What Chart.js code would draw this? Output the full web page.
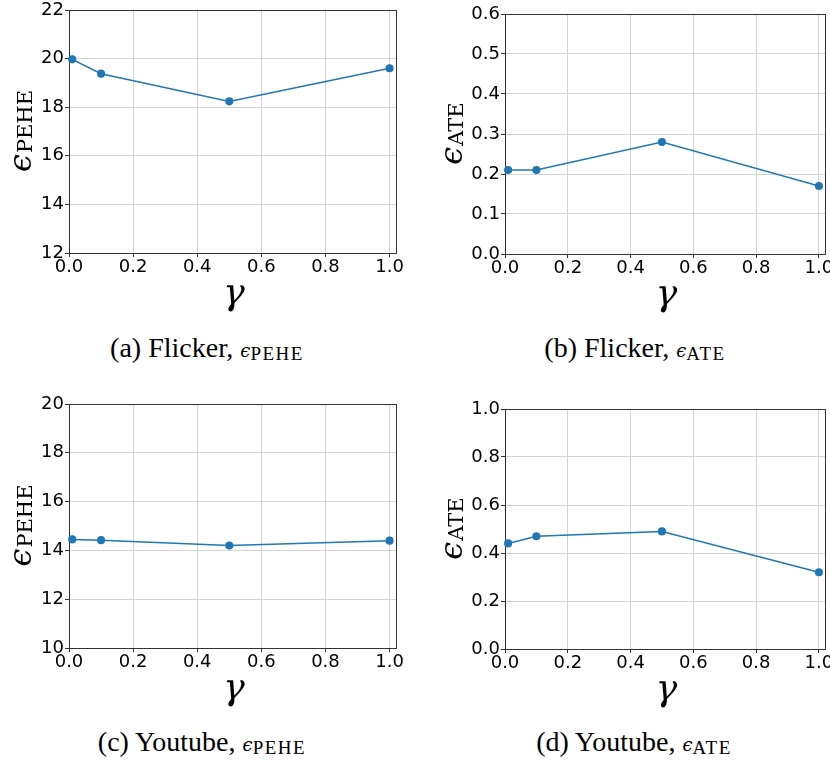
<!DOCTYPE html>
<html>
<head>
<meta charset="utf-8">
<script src="https://cdn.jsdelivr.net/npm/chart.js@4.4.0/dist/chart.umd.min.js"></script>
<style>
  body { margin: 0; background: #fff; }
  #wrap { position: relative; width: 830px; height: 762px; overflow: hidden; }
  canvas { position: absolute; }
  .cap {
    position: absolute; width: 320px; text-align: center; white-space: nowrap;
    font-family: 'Liberation Serif', serif; font-size: 28px; color: #000; line-height: 30px;
  }
  .cap i { font-family: 'DejaVu Serif', serif; font-size: 18px; }
  .cap sub { font-size: 19px; vertical-align: -3px; letter-spacing: 1.5px; }
</style>
</head>
<body>
<div id="wrap">
  <canvas id="ga" width="415" height="320" style="left:0;top:0"></canvas>
  <canvas id="gb" width="410" height="320" style="left:420px;top:0"></canvas>
  <canvas id="gc" width="415" height="325" style="left:0;top:390px"></canvas>
  <canvas id="gd" width="410" height="325" style="left:420px;top:390px"></canvas>
  <div class="cap" id="capa" style="left:47px;top:333px"></div>
  <div class="cap" id="capb" style="left:475px;top:333px"></div>
  <div class="cap" id="capc" style="left:42px;top:727px"></div>
  <div class="cap" id="capd" style="left:474px;top:727px"></div>
</div>
<script>
// gamma values used for every panel
const gammas = [0.01, 0.1, 0.5, 1.0];

// series
const flickerPehe = [19.97, 19.38, 18.24, 19.6];
const flickerAte = [0.21, 0.21, 0.28, 0.17];
const youtubePehe = [14.45, 14.42, 14.2, 14.4];
const youtubeAte = [0.44, 0.47, 0.49, 0.32];

// tick labels
const gammaTicks = [0, 0.2, 0.4, 0.6, 0.8, 1.0];
const flickerPeheTicks = [12, 14, 16, 18, 20, 22];
const flickerAteTicks = [0, 0.1, 0.2, 0.3, 0.4, 0.5, 0.6];
const youtubePeheTicks = [10, 12, 14, 16, 18, 20];
const youtubeAteTicks = [0, 0.2, 0.4, 0.6, 0.8, 1.0];

const captions = ['(a) Flicker,', '(b) Flicker,', '(c) Youtube,', '(d) Youtube,'];
const metricNames = ['PEHE', 'ATE', 'PEHE', 'ATE'];

const blue = '#1f77b4';

// frame around the plot (all four spines)
const framePlugin = {
  id: 'frame',
  beforeDatasetsDraw(chart) {
    const a = chart.chartArea, ctx = chart.ctx;
    ctx.save();
    ctx.strokeStyle = '#333';
    ctx.lineWidth = 1;
    ctx.strokeRect(Math.round(a.left) + 0.5, Math.round(a.top) + 0.5,
      Math.round(a.right - a.left), Math.round(a.bottom - a.top));
    ctx.restore();
  }
};

// axis titles: epsilon with subscript on y, gamma on x
const titlePlugin = {
  id: 'titles',
  afterDraw(chart, args, opts) {
    const a = chart.chartArea, ctx = chart.ctx;
    ctx.save();
    ctx.fillStyle = '#000';
    // y title
    ctx.translate(a.left - opts.yOffset, (a.top + a.bottom) / 2);
    ctx.rotate(-Math.PI / 2);
    ctx.textBaseline = 'alphabetic';
    const epsFont = 'italic 32px "DejaVu Serif"';
    const subFont = '21px "DejaVu Serif"';
    ctx.font = epsFont;
    const ew = ctx.measureText('\u03f5').width;
    ctx.font = subFont;
    const sw = ctx.measureText(opts.sub).width;
    const x0 = -(ew + sw) / 2;
    ctx.font = epsFont;
    ctx.fillText('\u03f5', x0, 0);
    ctx.font = subFont;
    ctx.fillText(opts.sub, x0 + ew + 1, 1);
    ctx.restore();
    // x title (upright gamma, slanted a bit)
    ctx.save();
    ctx.fillStyle = '#000';
    ctx.font = '36px "DejaVu Serif"';
    ctx.textAlign = 'center';
    ctx.textBaseline = 'alphabetic';
    ctx.translate((a.left + a.right) / 2, a.bottom + 51);
    ctx.transform(1, 0, -0.22, 1, 0, 0);
    ctx.fillText('\u03b3', 0, 0);
    ctx.restore();
  }
};

function fixedAxis(size, horizontal) {
  return function (scale) {
    if (horizontal) scale.height = size; else scale.width = size;
    scale.paddingLeft = 0; scale.paddingRight = 0;
    scale.paddingTop = 0; scale.paddingBottom = 0;
  };
}

function makePanel(id, values, yTicks, yMin, yMax, yDigits, sub, box, yOffset) {
  const canvas = document.getElementById(id);
  const W = canvas.width, H = canvas.height;
  const points = gammas.map((g, i) => ({ x: g, y: values[i] }));
  const tickFont = { family: 'DejaVu Sans', size: 18 };
  return new Chart(canvas, {
    type: 'line',
    data: {
      datasets: [{
        data: points,
        borderColor: blue,
        backgroundColor: blue,
        borderWidth: 1.5,
        pointRadius: 3.3,
        pointHoverRadius: 3.3,
        tension: 0,
        clip: false
      }]
    },
    plugins: [framePlugin, titlePlugin],
    options: {
      responsive: false,
      animation: false,
      events: [],
      layout: { padding: { left: 0, top: box.top, right: W - box.right, bottom: 0 } },
      plugins: {
        legend: { display: false },
        tooltip: { enabled: false },
        titles: { sub: sub, yOffset: yOffset }
      },
      scales: {
        x: {
          type: 'linear',
          min: 0, max: 1.02,
          afterFit: fixedAxis(H - box.bottom, true),
          afterBuildTicks: s => { s.ticks = gammaTicks.map(v => ({ value: v })); },
          border: { display: false },
          grid: { color: '#d3d3d3', lineWidth: 1, tickLength: 4, tickColor: '#333', tickWidth: 1 },
          ticks: { color: '#000', font: tickFont, padding: 0, maxRotation: 0, autoSkip: false,
                   callback: v => v.toFixed(1) }
        },
        y: {
          type: 'linear',
          min: yMin, max: yMax,
          afterFit: fixedAxis(box.left, false),
          afterBuildTicks: s => { s.ticks = yTicks.map(v => ({ value: v })); },
          border: { display: false },
          grid: { color: '#d3d3d3', lineWidth: 1, tickLength: 4, tickColor: '#333', tickWidth: 1 },
          ticks: { color: '#000', font: tickFont, padding: 1, autoSkip: false,
                   callback: v => v.toFixed(yDigits) }
        }
      }
    }
  });
}

makePanel('ga', flickerPehe, flickerPeheTicks, 12, 22, 0, 'PEHE', { left: 69, top: 10, right: 396, bottom: 253 }, 38);
makePanel('gb', flickerAte, flickerAteTicks, 0, 0.6, 1, 'ATE', { left: 85, top: 14, right: 407, bottom: 254 }, 43);
makePanel('gc', youtubePehe, youtubePeheTicks, 10, 20, 0, 'PEHE', { left: 69, top: 14, right: 396, bottom: 258 }, 38);
makePanel('gd', youtubeAte, youtubeAteTicks, 0, 1.0, 1, 'ATE', { left: 85, top: 19, right: 407, bottom: 259 }, 43);

['capa', 'capb', 'capc', 'capd'].forEach((id, i) => {
  document.getElementById(id).innerHTML =
    captions[i] + ' <i>\u03f5</i><sub>' + metricNames[i] + '</sub>';
});
</script>
</body>
</html>
